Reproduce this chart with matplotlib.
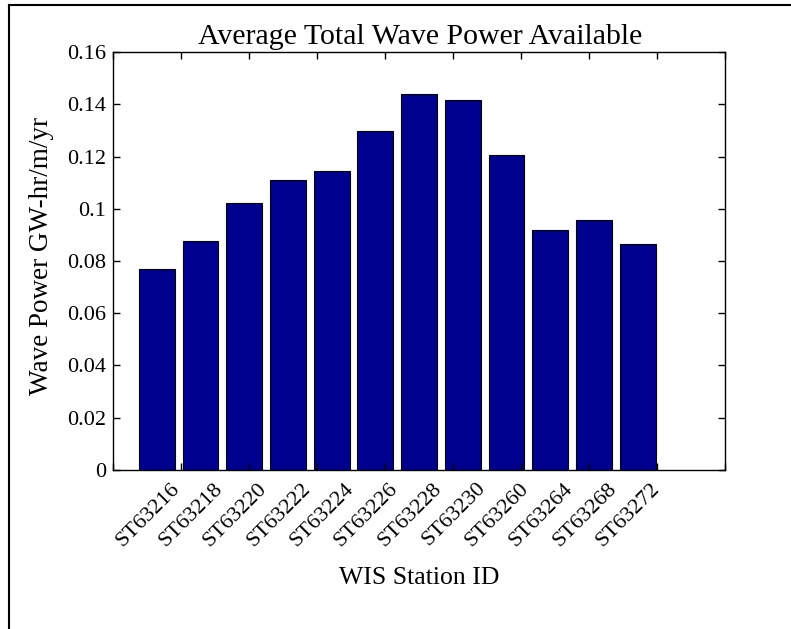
import numpy as np
import matplotlib.pyplot as plt
from matplotlib.transforms import blended_transform_factory, offset_copy
from matplotlib.lines import Line2D

# ----- data -----
stations = ["ST63216", "ST63218", "ST63220", "ST63222", "ST63224", "ST63226",
            "ST63228", "ST63230", "ST63260", "ST63264", "ST63268", "ST63272"]
wave_power = [0.0768, 0.0878, 0.1023, 0.1109, 0.1146, 0.1299,
              0.1438, 0.1416, 0.1207, 0.0919, 0.0956, 0.0864]
ytick_vals = [0, 0.02, 0.04, 0.06, 0.08, 0.1, 0.12, 0.14, 0.16]
ytick_labels = ["0", "0.02", "0.04", "0.06", "0.08", "0.1", "0.12", "0.14", "0.16"]

plt.rcParams['font.family'] = ['Liberation Serif', 'DejaVu Serif']

fig = plt.figure(figsize=(7.91, 6.29), dpi=100)
ax = fig.add_axes([0.1429, 0.2528, 0.9166 - 0.1429, 0.9173 - 0.2528])

x = np.arange(1, len(stations) + 1)
ax.bar(x, wave_power, width=0.82, color="#00008F", edgecolor="black", linewidth=0.8)

ax.set_xlim(0, 14)
ax.set_ylim(0, 0.16)
ax.set_yticks(ytick_vals)
ax.set_yticklabels(ytick_labels, fontsize=16)
# matlab style ticks: 10 evenly spaced marks, labels placed as text
ax.set_xticks(np.linspace(0, 14, 10))
ax.set_xticklabels([])
ax.tick_params(direction="in", length=5, top=True, right=True, width=1, pad=5)
for s in ax.spines.values():
    s.set_linewidth(1)

trans = offset_copy(blended_transform_factory(ax.transData, ax.transAxes),
                    fig=fig, x=0, y=-9, units="dots")
for xi, name in zip(x, stations):
    ax.text(xi + 0.3, 0, name, transform=trans, rotation=45,
            rotation_mode="anchor", ha="right", va="top", fontsize=16)

fig.text(420 / 791, 1 - 44 / 629, "Average Total Wave Power Available",
         ha="center", va="baseline", fontsize=21.5)
fig.text(42 / 791, 1 - 256 / 629, "Wave Power GW-hr/m/yr", rotation=90,
         ha="center", va="center", fontsize=19.5)
fig.text(419 / 791, 1 - 584 / 629, "WIS Station ID", ha="center", va="baseline", fontsize=18.5)

# partial frame around the figure (cropped screenshot)
fig.add_artist(Line2D([9 / 791, 9 / 791], [0, 1 - 5 / 629], color="black", lw=1.5))
fig.add_artist(Line2D([9 / 791, 1], [1 - 5 / 629, 1 - 5 / 629], color="black", lw=1.5))

fig.savefig("out.png", dpi=100)
